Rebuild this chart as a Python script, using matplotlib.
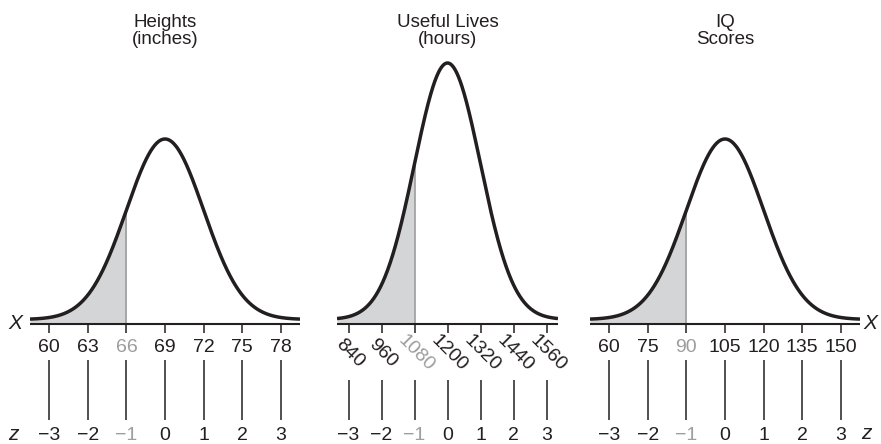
import numpy as np
import matplotlib
matplotlib.use("Agg")
import matplotlib.pyplot as plt
from matplotlib.transforms import blended_transform_factory

# ---------------- data ----------------
titles = ["Heights\n(inches)", "Useful Lives\n(hours)", "IQ\nScores"]
means = [69, 1200, 105]
sds = [3, 120, 15]
ticks_heights = [60, 63, 66, 69, 72, 75, 78]
ticks_lives = [840, 960, 1080, 1200, 1320, 1440, 1560]
ticks_iq = [60, 75, 90, 105, 120, 135, 150]
x_ticks = [ticks_heights, ticks_lives, ticks_iq]
z_values = [-3, -2, -1, 0, 1, 2, 3]
shade_z = -1

# ---------------- layout (pixels) ----------------
W, H = 881, 444
panel_px = [(30, 300), (337, 558), (590, 860)]
sd_px = [38.6, 33.0, 38.6]
peak_px = [139, 63, 139]
axis_px = 324
top_px = 40
zline_top = [360, 380, 360]

plt.rcParams['font.family'] = ['Liberation Sans', 'DejaVu Sans']
INK = '#231f20'
GRAY = '#9d9d9d'
FILL = '#d4d5d7'
TFS = 14

fig = plt.figure(figsize=(W / 100, H / 100), dpi=100)


def fy(py):
    return 1 - py / H


def fmt(v):
    s = str(abs(v))
    return ('\u2212' + s) if v < 0 else s


for i in range(3):
    m, sd = means[i], sds[i]
    x0, x1 = panel_px[i]
    half_w = (x1 - x0) / 2
    span = half_w / sd_px[i]
    lo, hi = m - span * sd, m + span * sd

    ax = fig.add_axes([x0 / W, fy(axis_px), (x1 - x0) / W, (axis_px - top_px) / H])
    ax.set_axis_off()
    ax.set_xlim(lo, hi)

    peak = 1 / (sd * np.sqrt(2 * np.pi))
    off_px = 4.5
    s = peak / (axis_px - peak_px[i] - off_px)
    off = off_px * s
    ax.set_ylim(0, (axis_px - top_px) * s)

    x = np.linspace(lo, hi, 600)
    pdf = np.exp(-0.5 * ((x - m) / sd) ** 2) / (sd * np.sqrt(2 * np.pi))
    y = pdf + off

    xs = m + shade_z * sd
    mask = x <= xs
    xf = np.append(x[mask], xs)
    yf = np.append(y[mask], np.exp(-0.5 * shade_z ** 2) / (sd * np.sqrt(2 * np.pi)) + off)
    ax.fill_between(xf, 0, yf, color=FILL, lw=0, zorder=1)
    ax.plot([xs, xs], [0, yf[-1]], color=GRAY, lw=1.2, zorder=2, solid_capstyle='butt')
    ax.plot(x, y, color=INK, lw=2.5, zorder=3, solid_capstyle='butt')
    ax.plot([lo, hi], [0, 0], color=INK, lw=1.5, zorder=4, solid_capstyle='butt', clip_on=False)

    tr = blended_transform_factory(ax.transData, fig.transFigure)
    for t, z in zip(x_ticks[i], z_values):
        col = GRAY if z == shade_z else INK
        ax.plot([t, t], [fy(axis_px), fy(333)], color=INK, lw=1.1, transform=tr,
                clip_on=False, solid_capstyle='butt')
        if i == 1:
            ax.text(t + 0.04 * sd, fy(353), str(t), rotation=-45, ha='center', va='center',
                    fontsize=TFS, color=col, transform=tr, rotation_mode='anchor')
        else:
            ax.text(t, fy(347), str(t), ha='center', va='center', fontsize=TFS,
                    color=col, transform=tr)
        ax.plot([t, t], [fy(zline_top[i]), fy(420)], color=INK, lw=1.1, transform=tr,
                clip_on=False, solid_capstyle='butt')
        ax.text(t, fy(435), fmt(z), ha='center', va='center', fontsize=TFS,
                color=col, transform=tr)

    ax.text(m, fy(31), titles[i], ha='center', va='center', fontsize=13.5,
            color=INK, transform=tr, linespacing=1.0)

fig.text(15 / W, fy(323), 'X', ha='center', va='center', fontsize=15, style='italic', color=INK)
fig.text(870 / W, fy(323), 'X', ha='center', va='center', fontsize=15, style='italic', color=INK)
fig.text(13 / W, fy(434), 'z', ha='center', va='center', fontsize=15, style='italic', color=INK)
fig.text(866 / W, fy(433), 'z', ha='center', va='center', fontsize=15, style='italic', color=INK)

fig.savefig('out.png', dpi=100, facecolor='white')
